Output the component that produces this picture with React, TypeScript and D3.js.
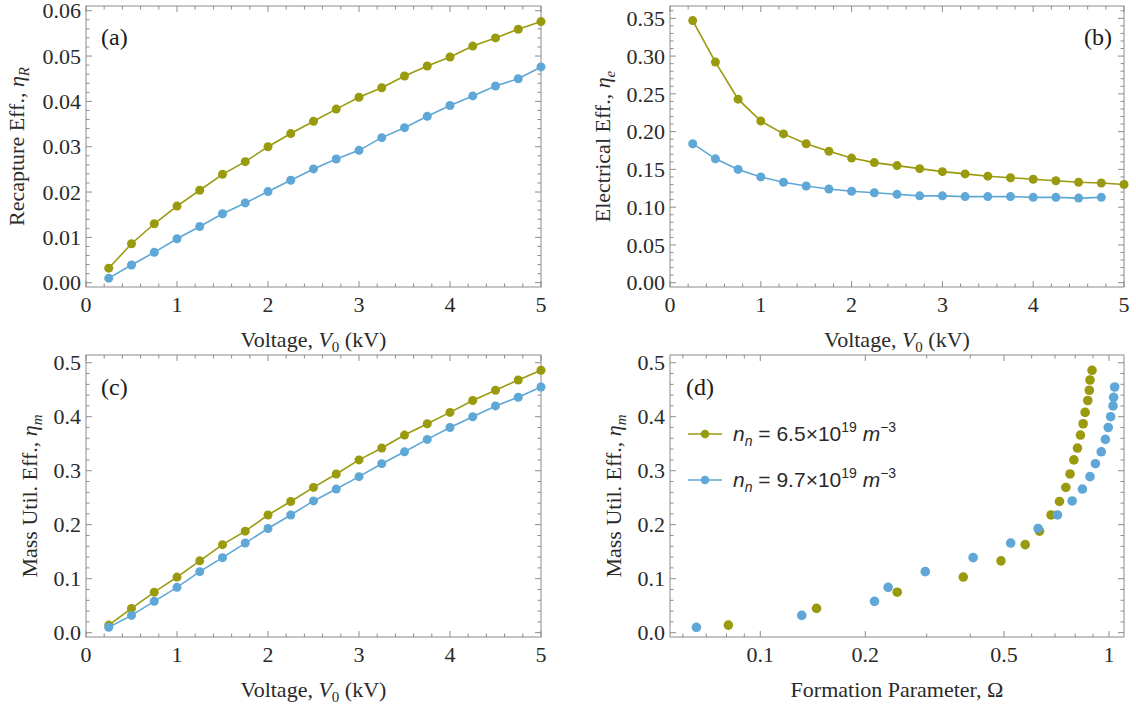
import React from 'react';
import * as d3 from 'd3';

// ---------- data ----------
const voltage = [0.25, 0.5, 0.75, 1, 1.25, 1.5, 1.75, 2, 2.25, 2.5, 2.75, 3, 3.25, 3.5, 3.75, 4, 4.25, 4.5, 4.75, 5];
const voltageShort = [0.25, 0.5, 0.75, 1, 1.25, 1.5, 1.75, 2, 2.25, 2.5, 2.75, 3, 3.25, 3.5, 3.75, 4, 4.25, 4.5, 4.75];

const recaptureLow = [0.0032, 0.0086, 0.0130, 0.0169, 0.0204, 0.0239, 0.0267, 0.0300, 0.0329, 0.0356, 0.0383, 0.0409, 0.0430, 0.0456, 0.0478, 0.0498, 0.0522, 0.0540, 0.0559, 0.0576];
const recaptureHigh = [0.0010, 0.0039, 0.0067, 0.0097, 0.0124, 0.0152, 0.0176, 0.0201, 0.0226, 0.0251, 0.0273, 0.0292, 0.0320, 0.0342, 0.0367, 0.0391, 0.0412, 0.0434, 0.0450, 0.0476];

const electricalLow = [0.347, 0.292, 0.243, 0.214, 0.197, 0.184, 0.174, 0.165, 0.159, 0.155, 0.151, 0.147, 0.144, 0.141, 0.139, 0.137, 0.135, 0.133, 0.132, 0.130];
const electricalHigh = [0.184, 0.164, 0.150, 0.140, 0.133, 0.128, 0.124, 0.121, 0.119, 0.117, 0.115, 0.115, 0.114, 0.114, 0.114, 0.113, 0.113, 0.112, 0.113];

const massLow = [0.014, 0.045, 0.075, 0.103, 0.133, 0.163, 0.188, 0.218, 0.243, 0.269, 0.294, 0.320, 0.342, 0.366, 0.387, 0.408, 0.430, 0.449, 0.468, 0.486];
const massHigh = [0.010, 0.032, 0.058, 0.084, 0.113, 0.139, 0.166, 0.193, 0.218, 0.244, 0.266, 0.289, 0.313, 0.335, 0.358, 0.380, 0.400, 0.420, 0.436, 0.455];

const omegaLow = [0.081, 0.145, 0.247, 0.382, 0.490, 0.575, 0.632, 0.682, 0.721, 0.752, 0.773, 0.793, 0.812, 0.828, 0.843, 0.854, 0.869, 0.878, 0.882, 0.894];
const omegaHigh = [0.0656, 0.1315, 0.2126, 0.2326, 0.2972, 0.4077, 0.5224, 0.6259, 0.7115, 0.784, 0.839, 0.882, 0.914, 0.950, 0.976, 0.995, 1.011, 1.027, 1.031, 1.038];

const legendLow = { mant: '6.5', exp: '19' };
const legendHigh = { mant: '9.7', exp: '19' };

const voltTicks = [0, 1, 2, 3, 4, 5];
const recapTicks = [0, 0.01, 0.02, 0.03, 0.04, 0.05, 0.06];
const elecTicks = [0, 0.05, 0.1, 0.15, 0.2, 0.25, 0.3, 0.35];
const massTicks = [0, 0.1, 0.2, 0.3, 0.4, 0.5];
const omegaTicks = [0.1, 0.2, 0.5, 1];
const omegaMinor = [0.06, 0.07, 0.08, 0.09, 0.3, 0.4, 0.6, 0.7, 0.8, 0.9];

// ---------- style ----------
const OLIVE = '#9a9a0e';
const BLUE = '#5ea7d6';
const FRAME = '#8c8c8c';
const TEXT = '#2a2a2a';
const SERIF = "'Liberation Serif', 'Times New Roman', Times, serif";
const SANS = "'Liberation Sans', Arial, sans-serif";
const TICK_FS = 22;
const LABEL_FS = 22;

type Series = { xs: number[]; ys: number[]; color: string; line: boolean; r: number };

type PanelProps = {
  x0: number; x1: number; y0: number; y1: number;
  xScale: any; yScale: any;
  xMajor: number[]; xMinor: number[];
  yMajor: number[]; yMinor: number[];
  xFmt: (v: number) => string; yFmt: (v: number) => string;
  series: Series[];
  xLabel: React.ReactNode; yLabel: React.ReactNode; yLabelOffset: number;
  tag: string; tagX: number; tagY: number; tagAnchor?: string;
};

function Panel(p: PanelProps) {
  const { x0, x1, y0, y1, xScale, yScale } = p;
  const MAJ = 6, MIN = 3.5;
  const ticks: JSX.Element[] = [];
  p.xMajor.forEach((v, i) => {
    const x = xScale(v);
    ticks.push(<line key={'xb' + i} x1={x} x2={x} y1={y1} y2={y1 - MAJ} />);
    ticks.push(<line key={'xt' + i} x1={x} x2={x} y1={y0} y2={y0 + MAJ} />);
  });
  p.xMinor.forEach((v, i) => {
    const x = xScale(v);
    ticks.push(<line key={'xmb' + i} x1={x} x2={x} y1={y1} y2={y1 - MIN} />);
    ticks.push(<line key={'xmt' + i} x1={x} x2={x} y1={y0} y2={y0 + MIN} />);
  });
  p.yMajor.forEach((v, i) => {
    const y = yScale(v);
    ticks.push(<line key={'yl' + i} x1={x0} x2={x0 + MAJ} y1={y} y2={y} />);
    ticks.push(<line key={'yr' + i} x1={x1} x2={x1 - MAJ} y1={y} y2={y} />);
  });
  p.yMinor.forEach((v, i) => {
    const y = yScale(v);
    ticks.push(<line key={'yml' + i} x1={x0} x2={x0 + MIN} y1={y} y2={y} />);
    ticks.push(<line key={'ymr' + i} x1={x1} x2={x1 - MIN} y1={y} y2={y} />);
  });
  const lineGen = d3.line<[number, number]>().x(d => xScale(d[0])).y(d => yScale(d[1]));
  const cy = (y0 + y1) / 2;
  const cx = (x0 + x1) / 2;
  return (
    <g>
      <rect x={x0} y={y0} width={x1 - x0} height={y1 - y0} fill="none" stroke={FRAME} strokeWidth={1} />
      <g stroke={FRAME} strokeWidth={1}>{ticks}</g>
      <g style={{ fontFamily: SERIF }} fontSize={TICK_FS} fill={TEXT}>
        {p.xMajor.map((v, i) => (
          <text key={'xl' + i} x={xScale(v)} y={y1 + 25} textAnchor="middle">{p.xFmt(v)}</text>
        ))}
        {p.yMajor.map((v, i) => (
          <text key={'yl' + i} x={x0 - 5} y={yScale(v)} dy="0.35em" textAnchor="end">{p.yFmt(v)}</text>
        ))}
        <text x={cx} y={y1 + 60} fontSize={LABEL_FS} textAnchor="middle">{p.xLabel}</text>
        <text transform={`translate(${x0 - p.yLabelOffset},${cy}) rotate(-90)`} fontSize={LABEL_FS} textAnchor="middle">{p.yLabel}</text>
        <text x={p.tagX} y={p.tagY} fontSize={24} fill="#1a1a1a" textAnchor={p.tagAnchor || 'start'}>{p.tag}</text>
      </g>
      {p.series.map((s, si) => {
        const pts: [number, number][] = s.xs.map((x, i) => [x, s.ys[i]]);
        return (
          <g key={'s' + si}>
            {s.line && <path d={lineGen(pts) || ''} fill="none" stroke={s.color} strokeWidth={1.6} />}
            {pts.map((d, i) => (
              <circle key={i} cx={xScale(d[0])} cy={yScale(d[1])} r={s.r} fill={s.color} />
            ))}
          </g>
        );
      })}
    </g>
  );
}

const voltLabel = (
  <>
    Voltage, <tspan fontStyle="italic">V</tspan>
    <tspan dy={5} fontSize={15}>0</tspan>
    <tspan dy={-5}> (kV)</tspan>
  </>
);

const effLabel = (name: string, sub: string) => (
  <>
    {name} <tspan fontStyle="italic">η</tspan>
    <tspan dy={5} fontSize={15} fontStyle="italic">{sub}</tspan>
  </>
);

function LegendItem({ x, y, color, mant, exp }: { x: number; y: number; color: string; mant: string; exp: string }) {
  return (
    <g>
      <line x1={x} x2={x + 34} y1={y} y2={y} stroke={color} strokeWidth={1.6} />
      <circle cx={x + 17} cy={y} r={4.3} fill={color} />
      <text x={x + 45} y={y + 7} style={{ fontFamily: SANS }} fontSize={21} fill={TEXT}>
        <tspan fontStyle="italic">n</tspan>
        <tspan dy={5} fontSize={14} fontStyle="italic">n</tspan>
        <tspan dy={-5}> = {mant}×10</tspan>
        <tspan dy={-9} fontSize={14}>{exp}</tspan>
        <tspan dy={9}> </tspan>
        <tspan fontStyle="italic">m</tspan>
        <tspan dy={-9} fontSize={14}>−3</tspan>
      </text>
    </g>
  );
}

export default function App() {
  const A = { x0: 86, x1: 541, y0: 6, y1: 287 };
  const B = { x0: 670, x1: 1124, y0: 6, y1: 287 };
  const C = { x0: 86, x1: 541, y0: 355, y1: 637 };
  const D = { x0: 670, x1: 1124, y0: 355, y1: 637 };

  const xA = d3.scaleLinear().domain([0, 5]).range([A.x0, A.x1]);
  const yA = d3.scaleLinear().domain([-0.00095, 0.06104]).range([A.y1, A.y0]);
  const xB = d3.scaleLinear().domain([0, 5]).range([B.x0, B.x1]);
  const yB = d3.scaleLinear().domain([-0.0057, 0.3663]).range([B.y1, B.y0]);
  const xC = d3.scaleLinear().domain([0, 5]).range([C.x0, C.x1]);
  const yC = d3.scaleLinear().domain([-0.008, 0.5143]).range([C.y1, C.y0]);
  const xD = d3.scaleLog().domain([0.0551, 1.104]).range([D.x0, D.x1]);
  const yD = d3.scaleLinear().domain([-0.008, 0.5143]).range([D.y1, D.y0]);

  const voltMinor = d3.range(0.2, 5, 0.2).filter(v => Math.abs(v - Math.round(v)) > 1e-6);
  const recapMinor = d3.range(0.002, 0.061, 0.002).filter(v => Math.abs(v * 100 - Math.round(v * 100)) > 1e-6);
  const elecMinor = d3.range(0.01, 0.365, 0.01).filter(v => Math.abs(v * 20 - Math.round(v * 20)) > 1e-6);
  const massMinor = d3.range(0.02, 0.51, 0.02).filter(v => Math.abs(v * 10 - Math.round(v * 10)) > 1e-6);

  const intFmt = (v: number) => String(v);
  const f2 = d3.format('.2f');
  const f1 = d3.format('.1f');
  const omegaFmt = (v: number) => (v === 1 ? '1' : String(v));

  return (
    <svg width={1136} height={706} style={{ position: 'absolute', left: 0, top: 0, background: '#fff' }}>
      <rect x={0} y={0} width={1136} height={706} fill="#fff" />
      <Panel {...A} xScale={xA} yScale={yA}
        xMajor={voltTicks} xMinor={voltMinor} yMajor={recapTicks} yMinor={recapMinor}
        xFmt={intFmt} yFmt={f2}
        series={[
          { xs: voltage, ys: recaptureLow, color: OLIVE, line: true, r: 4.5 },
          { xs: voltage, ys: recaptureHigh, color: BLUE, line: true, r: 4.5 },
        ]}
        xLabel={voltLabel} yLabel={effLabel('Recapture Eff.,', 'R')} yLabelOffset={62}
        tag="(a)" tagX={101} tagY={45} />
      <Panel {...B} xScale={xB} yScale={yB}
        xMajor={voltTicks} xMinor={voltMinor} yMajor={elecTicks} yMinor={elecMinor}
        xFmt={intFmt} yFmt={f2}
        series={[
          { xs: voltage, ys: electricalLow, color: OLIVE, line: true, r: 4.5 },
          { xs: voltageShort, ys: electricalHigh, color: BLUE, line: true, r: 4.5 },
        ]}
        xLabel={voltLabel} yLabel={effLabel('Electrical Eff.,', 'e')} yLabelOffset={60}
        tag="(b)" tagX={1112} tagY={45} tagAnchor="end" />
      <Panel {...C} xScale={xC} yScale={yC}
        xMajor={voltTicks} xMinor={voltMinor} yMajor={massTicks} yMinor={massMinor}
        xFmt={intFmt} yFmt={f1}
        series={[
          { xs: voltage, ys: massLow, color: OLIVE, line: true, r: 4.5 },
          { xs: voltage, ys: massHigh, color: BLUE, line: true, r: 4.5 },
        ]}
        xLabel={voltLabel} yLabel={effLabel('Mass Util. Eff.,', 'm')} yLabelOffset={49}
        tag="(c)" tagX={101} tagY={395} />
      <Panel {...D} xScale={xD} yScale={yD}
        xMajor={omegaTicks} xMinor={omegaMinor} yMajor={massTicks} yMinor={massMinor}
        xFmt={omegaFmt} yFmt={f1}
        series={[
          { xs: omegaLow, ys: massLow, color: OLIVE, line: false, r: 4.8 },
          { xs: omegaHigh, ys: massHigh, color: BLUE, line: false, r: 4.8 },
        ]}
        xLabel={<>Formation Parameter, Ω</>} yLabel={effLabel('Mass Util. Eff.,', 'm')} yLabelOffset={49}
        tag="(d)" tagX={686} tagY={395} />
      <LegendItem x={688} y={434} color={OLIVE} mant={legendLow.mant} exp={legendLow.exp} />
      <LegendItem x={688} y={480} color={BLUE} mant={legendHigh.mant} exp={legendHigh.exp} />
    </svg>
  );
}
